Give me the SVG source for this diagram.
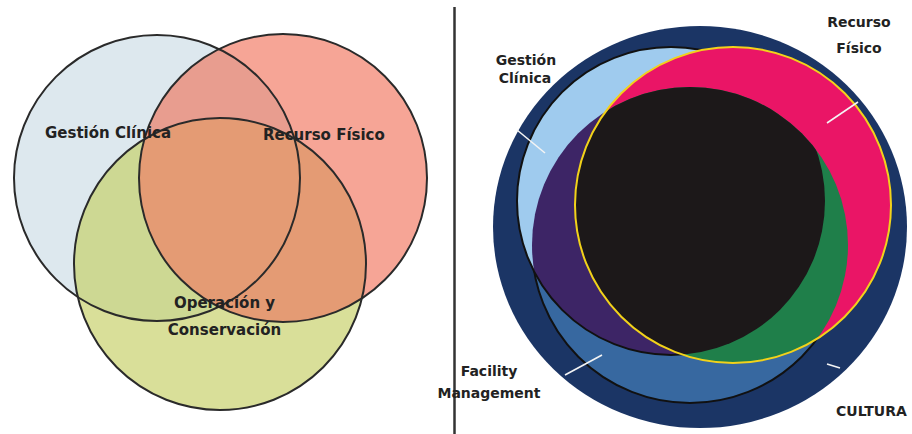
<svg xmlns="http://www.w3.org/2000/svg" width="912" height="434" viewBox="0 0 912 434">
<style>
.lbl{font-family:"DejaVu Sans",Verdana,sans-serif;font-weight:bold;fill:#222}
.l15{font-size:15px}
.l14{font-size:14px}
.ven{fill:none;stroke:#2a2a2a;stroke-width:2}
.lead{stroke:#f4f4f4;stroke-width:1.6;fill:none}
</style>
<defs>
<clipPath id="cB"><circle cx="157" cy="178" r="143"/></clipPath>
<clipPath id="cR"><circle cx="283" cy="178" r="144"/></clipPath>
<clipPath id="cGC"><circle cx="671" cy="201" r="154"/></clipPath>
<clipPath id="cRF"><circle cx="733" cy="205" r="158"/></clipPath>
<clipPath id="cFM"><circle cx="690" cy="245" r="158"/></clipPath>
</defs>
<rect width="912" height="434" fill="#fff"/>

<g id="venn-gestion">
<circle cx="157" cy="178" r="143" fill="#dde8ee"/>
</g>
<g id="venn-recurso">
<circle cx="283" cy="178" r="144" fill="#f6a596"/>
<circle cx="283" cy="178" r="144" fill="#e89d8f" clip-path="url(#cB)"/>
</g>
<g id="venn-operacion">
<circle cx="220" cy="264" r="146" fill="#d9df99"/>
<circle cx="220" cy="264" r="146" fill="#cdd893" clip-path="url(#cB)"/>
<circle cx="220" cy="264" r="146" fill="#e49b74" clip-path="url(#cR)"/>
</g>
<g id="venn-outlines">
<circle class="ven" cx="157" cy="178" r="143"/>
<circle class="ven" cx="283" cy="178" r="144"/>
<circle class="ven" cx="220" cy="264" r="146"/>
</g>
<g id="venn-labels">
<text class="lbl l15" x="45" y="138">Gestión Clínica</text>
<text class="lbl l15" x="263" y="140">Recurso Físico</text>
<text class="lbl l15" x="224.5" y="308" text-anchor="middle">Operación y</text>
<text class="lbl l15" x="224.5" y="335" text-anchor="middle">Conservación</text>
</g>

<g id="divider">
<line x1="454.5" y1="7" x2="454.5" y2="434" stroke="#333" stroke-width="2.5"/>
</g>

<g id="cultura">
<ellipse cx="700" cy="227" rx="207" ry="201" fill="#1b3565"/>
</g>
<g id="facility-management">
<circle cx="690" cy="245" r="158" fill="#3768a0" stroke="#111" stroke-width="2"/>
</g>
<g id="gestion-clinica">
<circle cx="671" cy="201" r="154" fill="#9fcbee"/>
<circle cx="690" cy="245" r="158" fill="#3d2566" clip-path="url(#cGC)"/>
<circle cx="671" cy="201" r="154" fill="none" stroke="#111" stroke-width="2"/>
</g>
<g id="recurso-fisico">
<circle cx="733" cy="205" r="158" fill="#ea1566"/>
<circle cx="690" cy="245" r="158" fill="#1f7f4a" clip-path="url(#cRF)"/>
<g clip-path="url(#cRF)"><circle cx="671" cy="201" r="154" fill="#1c1819" clip-path="url(#cFM)"/></g>
<circle cx="733" cy="205" r="158" fill="none" stroke="#f2d21a" stroke-width="2"/>
</g>

<g id="connectors">
<line class="lead" x1="517" y1="130" x2="545" y2="153"/>
<line class="lead" x1="858" y1="102" x2="827" y2="123"/>
<line class="lead" x1="565" y1="375" x2="602" y2="355"/>
<line class="lead" x1="827" y1="364" x2="840" y2="368"/>
</g>

<g id="labels-right">
<text class="lbl l14" x="526" y="65" text-anchor="middle">Gestión</text>
<text class="lbl l14" x="525" y="83" text-anchor="middle">Clínica</text>
<text class="lbl l14" x="859" y="27" text-anchor="middle">Recurso</text>
<text class="lbl l14" x="859" y="53" text-anchor="middle">Físico</text>
<text class="lbl l14" x="489" y="376" text-anchor="middle">Facility</text>
<text class="lbl l14" x="489" y="398" text-anchor="middle">Management</text>
<text class="lbl l14" x="836" y="416">CULTURA</text>
</g>
</svg>
